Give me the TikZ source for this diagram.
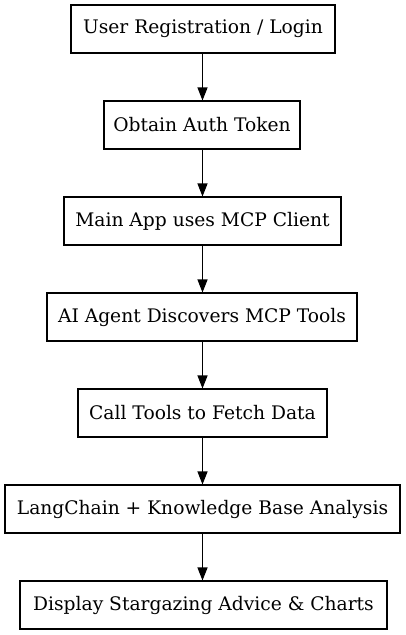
\documentclass[tikz,border=0pt]{standalone}
\usepackage{fontspec}
\setmainfont{DejaVu Serif}
\usetikzlibrary{arrows.meta}
\begin{document}
\begin{tikzpicture}[x=1pt,y=-1pt,
  stepbox/.style={draw, line width=1.1pt, rectangle, minimum height=48pt, inner xsep=0pt, font=\fontsize{18.67}{22}\selectfont, anchor=center},
  conn/.style={draw, line width=1.2pt, -{Triangle[length=13pt,width=10pt]}}]
\useasboundingbox (0,0) rectangle (405,635);
\node[stepbox, minimum width=264pt] (a) at (203,29) {User Registration / Login};
\node[stepbox, minimum width=196pt] (b) at (202,125) {Obtain Auth Token};
\node[stepbox, minimum width=277pt] (c) at (202.5,221) {Main App uses MCP Client};
\node[stepbox, minimum width=310pt] (d) at (202,317) {AI Agent Discovers MCP Tools};
\node[stepbox, minimum width=249pt] (e) at (202.5,413) {Call Tools to Fetch Data};
\node[stepbox, minimum width=395pt] (f) at (202.5,509) {LangChain + Knowledge Base Analysis};
\node[stepbox, minimum width=367pt] (g) at (203.5,605) {Display Stargazing Advice \& Charts};
\foreach \u/\v in {a/b,b/c,c/d,d/e,e/f,f/g}
  \draw[conn] (\u.south -| 202.5,0) -- (\v.north -| 202.5,0);
\end{tikzpicture}
\end{document}
